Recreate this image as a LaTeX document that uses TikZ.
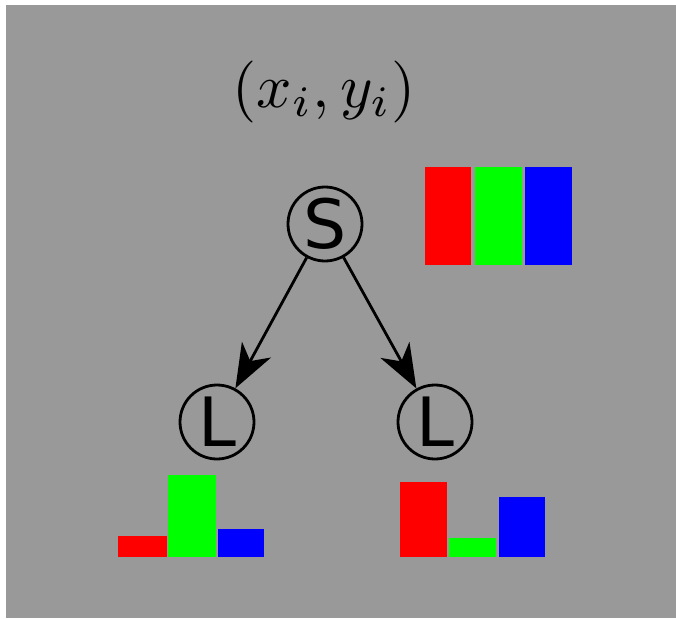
\documentclass[tikz,border=0pt]{standalone}
\usepackage{fontspec}
\newfontfamily\nodefont{DejaVu Sans}
\usetikzlibrary{arrows.meta}
\definecolor{bg}{RGB}{153,153,153}
\definecolor{rr}{RGB}{255,0,0}
\definecolor{gg}{RGB}{0,255,0}
\definecolor{bb}{RGB}{0,0,255}
\tikzset{
  state/.style={circle,draw=black,line width=2.8pt,minimum size=74pt,inner sep=0pt,
    font=\nodefont\fontsize{68}{68}\selectfont},
  edge/.style={line width=2.8pt,-{Stealth[length=44pt,width=33pt,inset=13pt]}},
}
\begin{document}
\begin{tikzpicture}[x=1pt,y=-1pt]
\useasboundingbox (0,0) rectangle (676,618);
\fill[white] (0,0) rectangle (676,618);
\fill[bg] (6,5) rectangle (676,618);
% title
\node[scale=6.2] (title) at (324,92) {$(x_i,y_i)$};
% tree
\node[state] (S) at (325,224) {S};
\node[state] (L1) at (217,422) {L};
\node[state] (L2) at (435,422) {L};
\draw[edge] (S) -- (L1);
\draw[edge] (S) -- (L2);
% top-right bars
\fill[rr] (425,167) rectangle (471,265);
\fill[gg] (475,167) rectangle (522,265);
\fill[bb] (525,167) rectangle (572,265);
% left histogram
\fill[rr] (118,536) rectangle (167,557);
\fill[gg] (168,475) rectangle (216,557);
\fill[bb] (218,529) rectangle (264,557);
% right histogram
\fill[rr] (400,482) rectangle (447,557);
\fill[gg] (449,538) rectangle (496,557);
\fill[bb] (499,497) rectangle (545,557);
\end{tikzpicture}
\end{document}
